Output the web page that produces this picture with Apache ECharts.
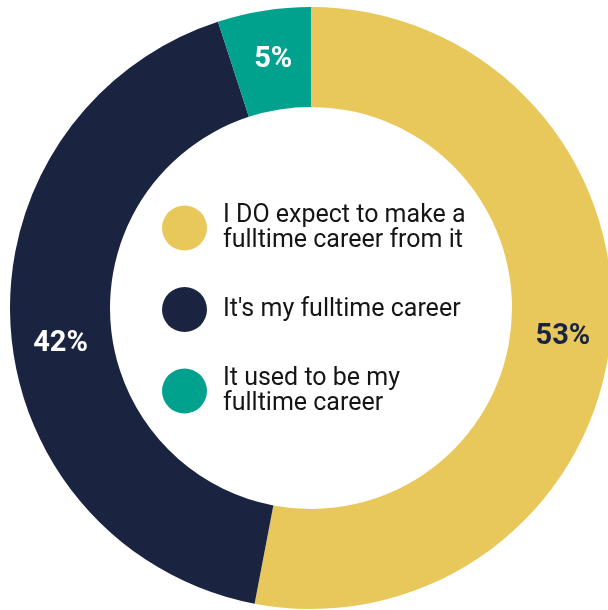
<!DOCTYPE html>
<html>
<head>
<meta charset="utf-8">
<script src="https://cdn.jsdelivr.net/npm/echarts@6/dist/echarts.min.js"></script>
<style>
  html, body { margin: 0; padding: 0; background: #fff; }
  #chart { width: 608px; height: 610px; }
</style>
</head>
<body>
<div id="chart"></div>
<script>
// Survey answers and their shares (percent)
const categories = [
  "I DO expect to make a fulltime career from it",
  "It's my fulltime career",
  "It used to be my fulltime career"
];
const legendLines = [
  "I DO expect to make a\nfulltime career from it",
  "It's my fulltime career",
  "It used to be my\nfulltime career"
];
const shares = [53, 42, 5];
const colors = ["#E8C85A", "#1A2441", "#00A28E"];
const labelColors = ["#1A2441", "#ffffff", "#ffffff"];

// nudges applied to the percentage labels (pixels, [dx, dy])
const labelNudges = [[-1, 5], [3, 20], [2, 3]];

const chart = echarts.init(document.getElementById('chart'), null, { renderer: 'canvas' });

chart.setOption({
  animation: false,
  legend: {
    orient: 'vertical',
    left: 162,
    top: 203,
    padding: 0,
    icon: 'circle',
    itemWidth: 45,
    itemHeight: 45,
    itemGap: 34,
    selectedMode: false,
    data: categories,
    formatter: name => legendLines[categories.indexOf(name)],
    textStyle: {
      fontFamily: 'Roboto',
      fontSize: 25,
      lineHeight: 25,
      color: '#151515',
      padding: [0, 0, 0, 11]
    }
  },
  series: [{
    type: 'pie',
    center: [311, 308],
    radius: [201, 301],
    startAngle: 90,
    clockwise: true,
    silent: true,
    label: {
      show: true,
      position: 'inside',
      formatter: p => p.value + '%',
      fontFamily: 'Roboto',
      fontWeight: 'bold',
      fontSize: 29
    },
    labelLayout: p => ({ dx: labelNudges[p.dataIndex][0], dy: labelNudges[p.dataIndex][1] }),
    labelLine: { show: false },
    data: categories.map((name, i) => ({
      name: name,
      value: shares[i],
      itemStyle: { color: colors[i] },
      label: { color: labelColors[i] }
    }))
  }]
});
</script>
</body>
</html>
